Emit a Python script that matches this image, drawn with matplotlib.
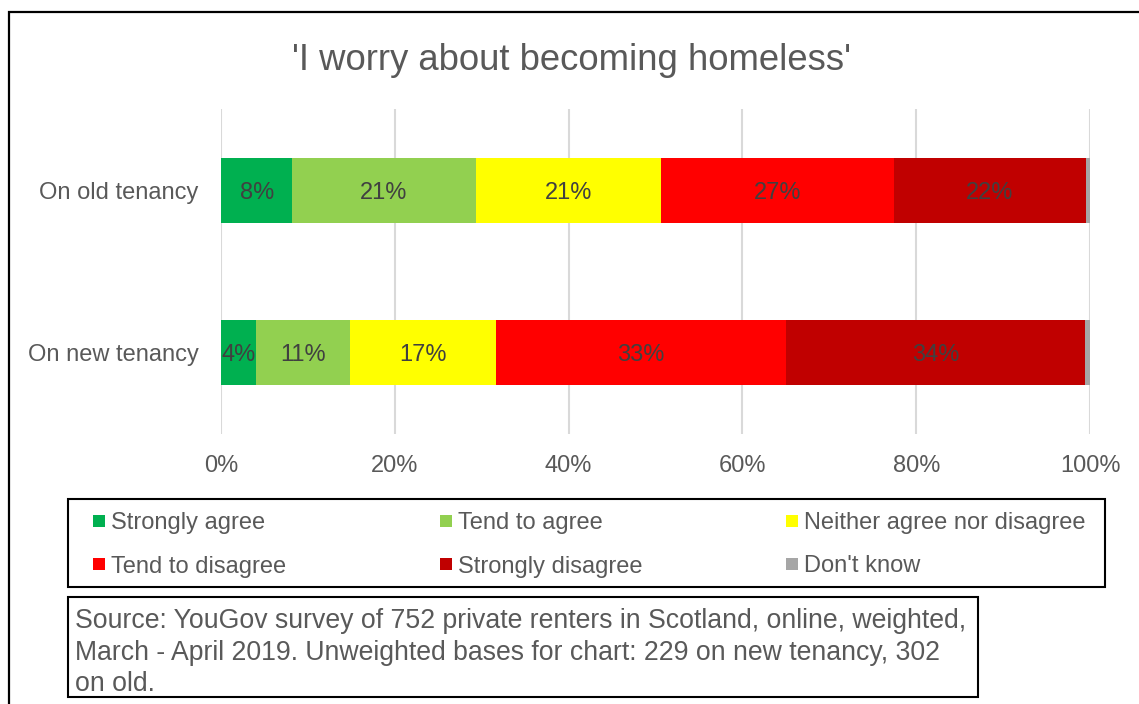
import matplotlib
matplotlib.use("Agg")
import matplotlib.pyplot as plt
from matplotlib.patches import Rectangle

plt.rcParams['font.family'] = ['Liberation Sans', 'DejaVu Sans']

# ---- data -------------------------------------------------------------
categories = ["On old tenancy", "On new tenancy"]
responses = ["Strongly agree", "Tend to agree", "Neither agree nor disagree",
             "Tend to disagree", "Strongly disagree", "Don't know"]
old_tenancy = [8.2, 21.1, 21.3, 26.8, 22.1, 0.5]
new_tenancy = [4.0, 10.9, 16.7, 33.4, 34.4, 0.6]
colors = ["#00B050", "#92D050", "#FFFF00", "#FF0000", "#C00000", "#A6A6A6"]
tick_values = [0, 20, 40, 60, 80, 100]
tick_labels = ["0%", "20%", "40%", "60%", "80%", "100%"]
title = "'I worry about becoming homeless'"
source_lines = [
    "Source: YouGov survey of 752 private renters in Scotland, online, weighted,",
    "March - April 2019. Unweighted bases for chart: 229 on new tenancy, 302",
    "on old.",
]

W, H = 1139, 704
TEXT = "#595959"
LABEL = "#404040"
FS = 17


def fx(x):
    return x / W


def fy(y):
    return 1 - y / H


fig = plt.figure(figsize=(W / 100, H / 100), dpi=100)

# outer frame (runs off the right and bottom edges)
fig.add_artist(Rectangle((fx(9), fy(720)), fx(1160) - fx(9), fy(12) - fy(720),
                         transform=fig.transFigure, fill=False,
                         edgecolor="black", linewidth=1.6))

fig.text(0.5 * (fx(291) + fx(852)), fy(57), title, ha="center",
         va="center_baseline", fontsize=26.3, color=TEXT)

ax = fig.add_axes([fx(221), fy(434), fx(1090) - fx(221), fy(109) - fy(434)])

series = list(zip(*[old_tenancy, new_tenancy]))
ypos = list(range(len(categories)))
left = [0.0] * len(categories)
for name, vals, col in zip(responses, series, colors):
    ax.barh(ypos, vals, left=left, height=0.4, color=col,
            linewidth=0, label=name)
    if name != "Don't know":
        for y, l, v in zip(ypos, left, vals):
            ax.text(l + v / 2, y, f"{v:.0f}%", ha="center",
                    va="center_baseline", fontsize=FS, color=LABEL)
    left = [l + v for l, v in zip(left, vals)]

ax.set_xlim(0, 100)
ax.set_ylim(1.5, -0.5)
ax.set_xticks(tick_values)
ax.set_xticklabels(tick_labels)
ax.set_yticks(ypos)
ax.set_yticklabels(categories)
ax.tick_params(axis="both", length=0, labelsize=FS, labelcolor=TEXT)
ax.tick_params(axis="x", pad=15)
ax.tick_params(axis="y", pad=16)
ax.grid(axis="x", color="#D9D9D9", linewidth=1.5)
ax.set_axisbelow(True)
for s in ax.spines.values():
    s.set_visible(False)

# legend box
fig.add_artist(Rectangle((fx(68), fy(587)), fx(1105) - fx(68), fy(499) - fy(587),
                         transform=fig.transFigure, fill=False,
                         edgecolor="black", linewidth=1.5))
col_x = [93, 440, 786]
row_y = [521, 564]
for k, (name, col) in enumerate(zip(responses, colors)):
    r, c = divmod(k, 3)
    x0, yc = col_x[c], row_y[r]
    fig.add_artist(Rectangle((fx(x0), fy(yc + 6)), fx(12), 12 / H,
                             transform=fig.transFigure, facecolor=col,
                             edgecolor="none"))
    fig.text(fx(x0 + 18), fy(yc), name, ha="left", va="center_baseline",
             fontsize=FS, color=TEXT)

# source box
fig.add_artist(Rectangle((fx(68), fy(697)), fx(978) - fx(68), fy(597) - fy(697),
                         transform=fig.transFigure, fill=False,
                         edgecolor="black", linewidth=1.5))
for line, yc in zip(source_lines, [618, 650, 681]):
    fig.text(fx(75), fy(yc), line, ha="left", va="center_baseline",
             fontsize=19.2, color=TEXT)

fig.savefig("out.png", dpi=100)
